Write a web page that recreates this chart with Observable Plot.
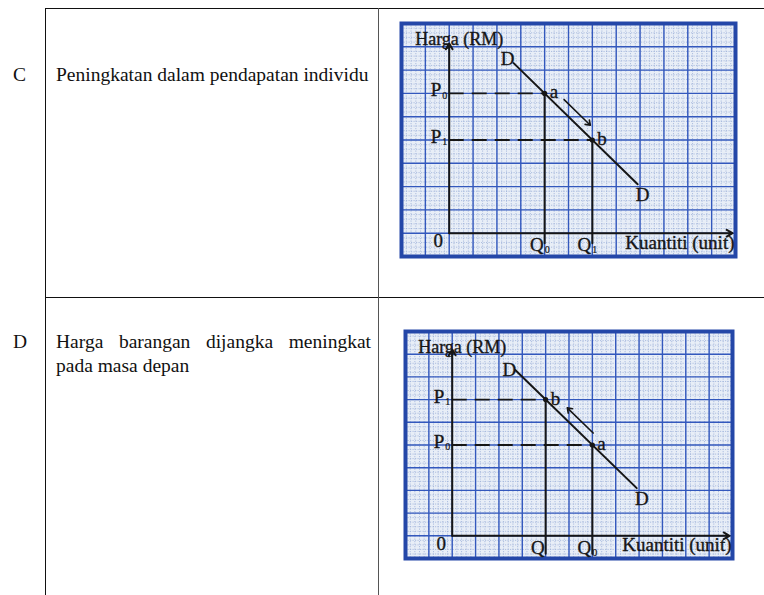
<!DOCTYPE html>
<html>
<head>
<meta charset="utf-8">
<script src="https://cdn.jsdelivr.net/npm/d3@7"></script>
<script src="https://cdn.jsdelivr.net/npm/@observablehq/plot@0.6"></script>
<style>
  html, body { margin: 0; padding: 0; background: #fff; }
  #page { position: relative; width: 764px; height: 595px; overflow: hidden; background: #fff;
          font-family: "Liberation Serif", "Times New Roman", serif; color: #111; }
  .hline { position: absolute; height: 0; border-top: 1.6px solid #111; }
  .vline { position: absolute; width: 0; border-left: 1.6px solid #111; }
  .vline.mid { border-left-color: #555; }
  .rowlabel { position: absolute; font-size: 19.5px; line-height: 24px; }
  .desc { position: absolute; font-size: 19.5px; line-height: 24px; text-align: justify; }
  .chart { position: absolute; }
</style>
</head>
<body>
<div id="page">
  <div class="hline" style="left:45px;top:8px;width:719px"></div>
  <div class="hline" style="left:45px;top:297px;width:719px"></div>
  <div class="vline" style="left:45px;top:8px;height:587px"></div>
  <div class="vline mid" style="left:378px;top:8px;height:587px"></div>
</div>
<script>
// ---------- data ----------
const categories = ["C", "D"];
const descriptions = [
  "Peningkatan dalam pendapatan individu",
  "Harga barangan dijangka meningkat pada masa depan"
];

// graph-paper extent in major-cell units (quantity across, price up)
const quantityDomain = [-2, 12];
const priceDomain = [-1, 9];

// demand curve DD end points (same line in both diagrams)
const demandQuantity = [2.7, 7.9];
const demandPrice = [7.3, 2.1];

// the two marked points on DD
const pointQuantity = [4, 6];
const pointPrice = [6, 4];

// row C: income rises -> movement a to b
const pointNamesC = ["a", "b"];
const priceSubsC = ["0", "1"];
const qtyLabelsC = ["Q", "Q"];
const qtySubsC = ["0", "1"];
const moveC = [0, 1];

// row D: expected price rise -> movement a to b (upwards)
const pointNamesD = ["b", "a"];
const priceSubsD = ["1", "0"];
const qtyLabelsD = ["Q", "Q"];
const qtySubsD = ["", "0"];
const moveD = [1, 0];

const priceTitle = "Harga (RM)";
const quantityTitle = "Kuantiti (unit)";
const originLabel = "0";
const curveLabel = "D";

// ---------- table text ----------
const page = document.getElementById("page");
const rowTops = [63, 330];
categories.forEach((c, i) => {
  const l = document.createElement("div");
  l.className = "rowlabel";
  l.style.left = "13px"; l.style.top = rowTops[i] + "px";
  l.textContent = c;
  page.appendChild(l);
  const d = document.createElement("div");
  d.className = "desc";
  d.style.left = "56px"; d.style.top = rowTops[i] + "px"; d.style.width = "315px";
  d.textContent = descriptions[i];
  page.appendChild(d);
});

// ---------- charts ----------
const idx = d3.range(pointQuantity.length);
const demand = d3.range(demandQuantity.length).map(i => ({q: demandQuantity[i], p: demandPrice[i]}));
const majorQ = d3.range(quantityDomain[0], quantityDomain[1] + 1);
const majorP = d3.range(priceDomain[0], priceDomain[1] + 1);
const minorQ = d3.range(quantityDomain[0] * 5, quantityDomain[1] * 5 + 1).map(v => v / 5);
const minorP = d3.range(priceDomain[0] * 5, priceDomain[1] * 5 + 1).map(v => v / 5);

const ink = "#161616";
const fontFam = "Liberation Serif, Times New Roman, serif";
const txt = {fill: ink, stroke: ink, strokeWidth: 0.35, fontSize: 19};

function makeChart(cfg) {
  const plot = Plot.plot({
    width: cfg.width, height: cfg.height,
    marginTop: 0, marginRight: 0, marginBottom: 0, marginLeft: 0,
    x: {domain: quantityDomain, axis: null},
    y: {domain: priceDomain, axis: null},
    style: {background: "#e8eef7", fontFamily: fontFam, overflow: "visible"},
    marks: [
      // graph paper
      Plot.ruleX(minorQ, {stroke: "#93a9d6", strokeWidth: 0.7, strokeDasharray: "1.2,1.3"}),
      Plot.ruleY(minorP, {stroke: "#93a9d6", strokeWidth: 0.7, strokeDasharray: "1.2,1.3"}),
      Plot.ruleX(majorQ, {stroke: "#3358bd", strokeWidth: 1.4}),
      Plot.ruleY(majorP, {stroke: "#3358bd", strokeWidth: 1.4}),
      Plot.frame({stroke: "#2447a8", strokeWidth: 4}),
      // axes
      Plot.arrow([0], {x1: 0, y1: 0, x2: 0, y2: () => priceDomain[1], insetEnd: cfg.yAxisInset,
        stroke: ink, strokeWidth: 2, headLength: 5}),
      Plot.arrow([0], {x1: 0, y1: 0, x2: () => quantityDomain[1], y2: 0, insetEnd: cfg.xAxisInset,
        stroke: ink, strokeWidth: 2, headLength: 5}),
      // dashed price lines
      Plot.ruleY(idx, {y: i => pointPrice[i], x1: 0, x2: i => pointQuantity[i],
        stroke: ink, strokeWidth: 1.9, strokeDasharray: "15,8"}),
      // quantity lines (extend a little below the axis)
      Plot.arrow(idx, {x1: i => pointQuantity[i], y1: i => pointPrice[i], x2: i => pointQuantity[i], y2: () => 0,
        insetEnd: -cfg.qExtend, headLength: 0, stroke: ink, strokeWidth: 2}),
      // demand curve
      Plot.line(demand, {x: "q", y: "p", stroke: ink, strokeWidth: 2}),
      // movement arrow along the curve
      Plot.arrow([cfg.move], {x1: m => pointQuantity[m[0]], y1: m => pointPrice[m[0]],
        x2: m => pointQuantity[m[1]], y2: m => pointPrice[m[1]],
        insetStart: cfg.moveInset[0], insetEnd: cfg.moveInset[1], dx: 8, dy: -5,
        stroke: ink, strokeWidth: 1.6, headLength: 5, headAngle: 70}),
      // points
      Plot.dot(idx, {x: i => pointQuantity[i], y: i => pointPrice[i], r: 2.6, fill: ink}),
      Plot.text(idx, {x: i => pointQuantity[i], y: i => pointPrice[i], text: i => cfg.names[i],
        textAnchor: "start", dx: 5, dy: -1, ...txt}),
      // curve labels D
      Plot.text([demand[0]], {x: "q", y: "p", text: () => curveLabel, dx: -6, dy: cfg.dTopDy, ...txt}),
      Plot.text([demand[1]], {x: "q", y: "p", text: () => curveLabel, dx: 5, dy: 11, ...txt}),
      // price labels
      Plot.text(idx, {x: 0, y: i => pointPrice[i], text: () => "P", textAnchor: "end", dx: -8, dy: -3, ...txt}),
      Plot.text(idx, {x: 0, y: i => pointPrice[i], text: i => cfg.priceSubs[i], textAnchor: "end", dx: -2, dy: 2, ...txt, fontSize: 10, strokeWidth: 0.2}),
      // quantity labels
      Plot.text(idx, {x: i => pointQuantity[i], y: 0, text: i => cfg.qtyLabels[i], textAnchor: "end", dx: -1, dy: cfg.qDy, ...txt}),
      Plot.text(idx, {x: i => pointQuantity[i], y: 0, text: i => cfg.qtySubs[i], textAnchor: "start", dx: 0, dy: cfg.qDy + 5, ...txt, fontSize: 10, strokeWidth: 0.2}),
      // origin
      Plot.text([0], {x: 0, y: 0, text: () => originLabel, dx: -11, dy: 8, ...txt}),
      // axis titles
      Plot.text([0], {x: 0, frameAnchor: "top", text: () => priceTitle, textAnchor: "start", dx: -34, dy: 9, ...txt, fontSize: 18}),
      Plot.text([0], {frameAnchor: "bottom-right", text: () => quantityTitle, textAnchor: "end", dx: -1, dy: -8, ...txt})
    ]
  });
  plot.classList.add("chart");
  plot.style.left = cfg.left + "px";
  plot.style.top = cfg.top + "px";
  plot.style.maxWidth = "none";
  page.appendChild(plot);
}

makeChart({left: 401, top: 23, width: 334, height: 233,
  names: pointNamesC, priceSubs: priceSubsC, qtyLabels: qtyLabelsC, qtySubs: qtySubsC, move: moveC,
  moveInset: [16, 14], qExtend: 10, qDy: 12, yAxisInset: 20, xAxisInset: 3, dTopDy: -4});
makeChart({left: 405, top: 331, width: 327, height: 227,
  names: pointNamesD, priceSubs: priceSubsD, qtyLabels: qtyLabelsD, qtySubs: qtySubsD, move: moveD,
  moveInset: [10, 19], qExtend: 18, qDy: 12, yAxisInset: 18, xAxisInset: 3, dTopDy: 0});
</script>
</body>
</html>
